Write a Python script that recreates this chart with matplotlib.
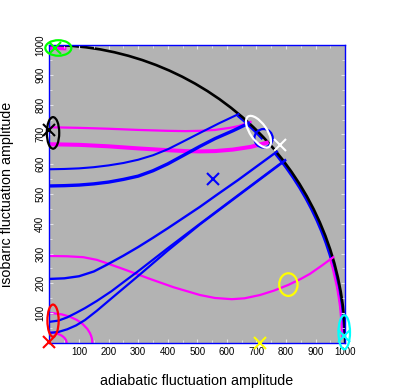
import numpy as np
import matplotlib
matplotlib.use("Agg")
import matplotlib.pyplot as plt
from matplotlib.patches import Arc, Ellipse

plt.rcParams['font.family'] = ['Liberation Sans', 'DejaVu Sans']

# trajectories (adiabatic, isobaric)
blue_a_x = [0, 50, 100, 150, 200, 250, 300, 350, 400, 450, 509, 575, 639]
blue_a_y = [583, 584, 586, 590, 596, 604, 615, 630, 650, 675, 705, 738, 768]
blue_b_x = [0, 50, 100, 150, 200, 250, 300, 350, 400, 450, 509, 560, 620, 673]
blue_b_y = [527, 528, 530, 534, 540, 549, 560, 578, 601, 628, 660, 686, 712, 737]
blue_c_x = [0, 50, 100, 150, 193, 250, 300, 350, 400, 450, 509, 570, 638, 700, 769]
blue_c_y = [215, 217, 224, 240, 262, 293, 322, 353, 385, 418, 457, 500, 547, 592, 642]
blue_d_x = [0, 30, 60, 90, 120, 160, 210, 250, 300, 400, 509, 650, 797]
blue_d_y = [71, 75, 86, 101, 117, 141, 174, 204, 241, 318, 400, 505, 614]
blue_e_x = [0, 30, 60, 90, 120, 160, 210, 300, 400, 509, 650, 797]
blue_e_y = [34, 37, 46, 59, 77, 108, 150, 225, 310, 398, 503, 612]

mag_a_x = [0, 100, 200, 300, 400, 460, 509, 560, 610, 640, 680]
mag_a_y = [724, 722, 719, 715, 712, 711, 712, 715, 722, 728, 742]
mag_b_x = [0, 100, 200, 300, 400, 460, 509, 560, 620, 680, 735]
mag_b_y = [667, 665, 660, 653, 647, 644, 643, 644, 649, 658, 672]
mag_c_x = [0, 60, 114, 160, 193, 250, 340, 420, 509, 560, 617, 660, 712, 760, 808, 850, 881, 920, 960]
mag_c_y = [292, 291, 288, 279, 268, 248, 215, 187, 161, 151, 147, 150, 161, 176, 195, 215, 232, 259, 288]

# segments that run along the limiting circle: (radius, theta1, theta2, colour, width)
rim_segments = [
    (993, 43.5, 50.2, 'blue', 1.5),
    (993, 2.0, 39.9, 'blue', 1.8),
    (990, 1.0, 16.7, 'magenta', 1.5),
    (990, 86.7, 90.0, 'magenta', 2.8),
]
# small elliptic arcs near the origin: (width, height)
origin_arcs = [(290, 200), (116, 70)]

# start / end markers
cross_x = [19, 0, 0, 997, 712, 554, 780]
cross_y = [989, 715, 2, 23, 0, 550, 665]
cross_c = ['#00ff00', 'black', 'red', '#00ffff', '#ffff00', 'blue', 'white']

ell_x = [30, 12, 12, 997, 808, 724, 707]
ell_y = [990, 705, 75, 36, 196, 687, 709]
ell_w = [88, 42, 38, 39, 62, 62, 124]
ell_h = [52, 106, 108, 114, 76, 62, 56]
ell_a = [0, 0, 0, 0, 0, 0, -55]
ell_c = ['#00ff00', 'black', 'red', '#00ffff', '#ffff00', 'blue', 'white']

ticks = [100, 200, 300, 400, 500, 600, 700, 800, 900, 1000]

fig = plt.figure(figsize=(3.99, 3.88), dpi=100)
ax = fig.add_axes([0.124, 0.116, 0.741, 0.768])
ax.set_facecolor('#b3b3b3')
ax.set_xlim(0, 1000)
ax.set_ylim(0, 1000)

for w, h in origin_arcs:
    ax.add_patch(Arc((0, 0), w, h, theta1=0, theta2=90, color='magenta', lw=1.6))

ax.plot(mag_c_x, mag_c_y, color='magenta', lw=1.6)
ax.plot(mag_a_x, mag_a_y, color='magenta', lw=1.6)
ax.plot(mag_b_x, mag_b_y, color='magenta', lw=2.9)

ax.plot(blue_a_x, blue_a_y, color='blue', lw=1.5)
ax.plot(blue_b_x, blue_b_y, color='blue', lw=2.4)
ax.plot(blue_c_x, blue_c_y, color='blue', lw=1.7)
ax.plot(blue_d_x, blue_d_y, color='blue', lw=1.6)
ax.plot(blue_e_x, blue_e_y, color='blue', lw=1.6)

for r, t1, t2, c, lw in rim_segments:
    ax.add_patch(Arc((0, 0), 2 * r, 2 * r, theta1=t1, theta2=t2, color=c, lw=lw))

# limiting circle
ax.add_patch(Arc((0, 0), 2000, 2000, theta1=0, theta2=90, color='black', lw=1.9))

for x, y, w, h, a, c in zip(ell_x, ell_y, ell_w, ell_h, ell_a, ell_c):
    ax.add_patch(Ellipse((x, y), w, h, angle=a, fill=False, ec=c, lw=1.6,
                         clip_on=False, zorder=5))
for x, y, c in zip(cross_x, cross_y, cross_c):
    ax.plot(x, y, marker='x', color=c, ms=8, mew=1.5, clip_on=False, zorder=6)

ax.set_xticks(ticks)
ax.set_yticks(ticks)
ax.set_xticks(np.arange(50, 1000, 100), minor=True)
ax.set_yticks(np.arange(50, 1000, 100), minor=True)
ax.tick_params(which='both', direction='in', color='#e6e6e6', top=True, right=True,
               labelsize=7, pad=3)
ax.tick_params(which='major', length=3)
ax.tick_params(which='minor', length=2)
for lab in ax.get_yticklabels():
    lab.set_rotation(90)
    lab.set_va('center')
for s in ax.spines.values():
    s.set_color('blue')
    s.set_linewidth(1.0)

fig.text(0.494, 1 - 381 / 388, 'adiabatic fluctuation amplitude', ha='center',
         va='center', fontsize=10.3)
fig.text(7 / 399, 0.5, 'isobaric fluctuation amplitude', ha='center', va='center',
         rotation=90, fontsize=10.3)

fig.savefig('out.png', dpi=100)
